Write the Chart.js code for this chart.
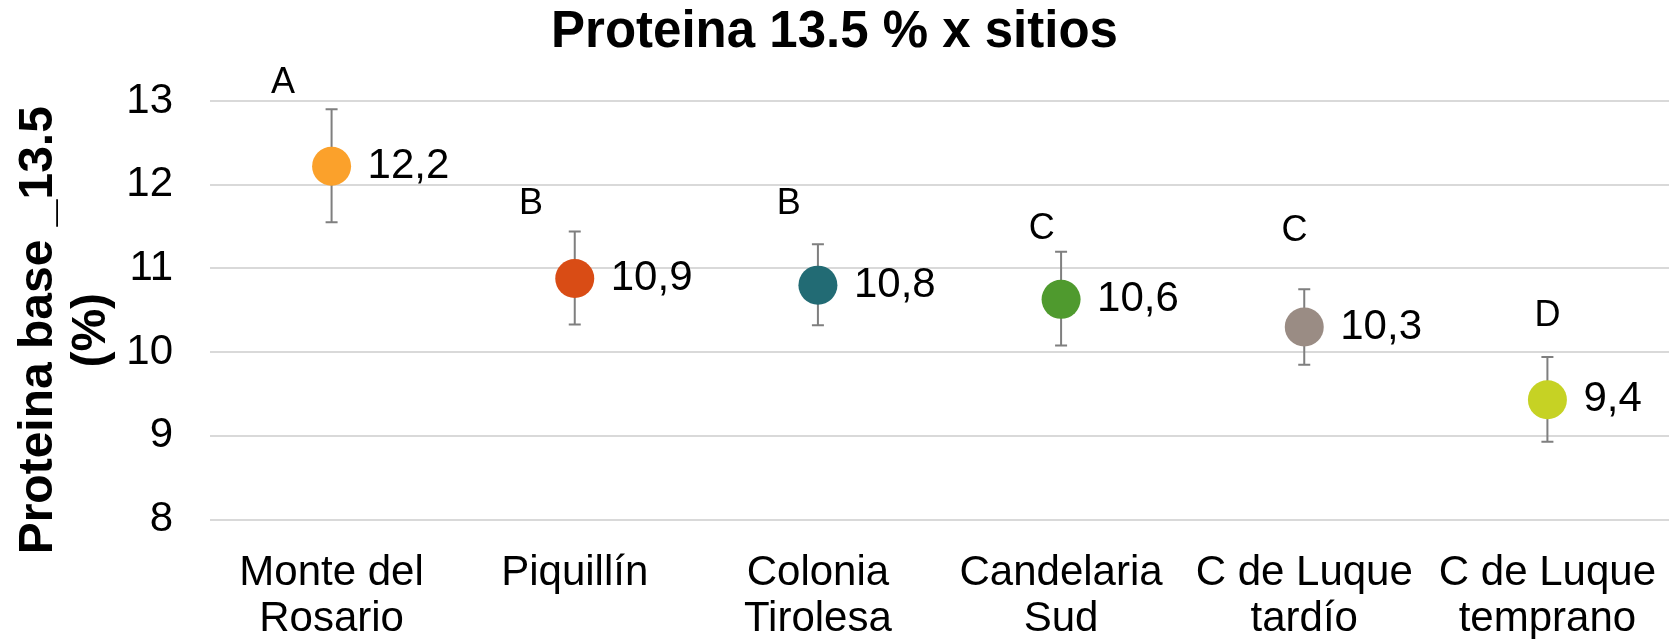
<!DOCTYPE html>
<html>
<head>
<meta charset="utf-8">
<script src="https://cdn.jsdelivr.net/npm/chart.js@4.4.1/dist/chart.umd.min.js"></script>
<style>
  html, body { margin: 0; padding: 0; background: #fff; }
</style>
</head>
<body>
<canvas id="chart" width="1669" height="639"></canvas>
<script>
// data
var sites   = [['Monte del', 'Rosario'], ['Piquillín'], ['Colonia', 'Tirolesa'], ['Candelaria', 'Sud'], ['C de Luque', 'tardío'], ['C de Luque', 'temprano']];
var protein = [12.22, 10.88, 10.80, 10.63, 10.30, 9.43];
var errLow  = [11.55, 10.33, 10.32, 10.08, 9.85, 8.93];
var errHigh = [12.90, 11.44, 11.29, 11.20, 10.75, 9.94];
var groups  = ['A', 'B', 'B', 'C', 'C', 'D'];
var groupX  = [-0.20, 0.82, 1.88, 2.92, 3.96, 5.00];
var groupY  = [13.22, 11.77, 11.77, 11.47, 11.44, 10.43];
var yTicks  = [8, 9, 10, 11, 12, 13];
var colors  = ['#fba12b', '#d94c15', '#226b74', '#4f9a2e', '#9a8c84', '#c6d224'];

var chartTitle = 'Proteina 13.5 % x sitios';
var yTitle     = ['Proteina base _13.5', '(%)'];
var FONT       = "'Liberation Sans', Arial, sans-serif";

var points = protein.map(function(v, i) { return { x: i, y: v }; });
var letters = groups.map(function(g, i) { return { x: groupX[i], y: groupY[i] }; });

// error bars go under the dots
var errorBars = {
  id: 'errorBars',
  beforeDatasetsDraw: function(chart) {
    var ctx = chart.ctx, y = chart.scales.y;
    var meta = chart.getDatasetMeta(0);
    ctx.save();
    ctx.strokeStyle = '#7f7f7f';
    ctx.lineWidth = 2;
    meta.data.forEach(function(pt, i) {
      var top = y.getPixelForValue(errHigh[i]);
      var bot = y.getPixelForValue(errLow[i]);
      ctx.beginPath();
      ctx.moveTo(pt.x, top); ctx.lineTo(pt.x, bot);
      ctx.moveTo(pt.x - 6, top); ctx.lineTo(pt.x + 6, top);
      ctx.moveTo(pt.x - 6, bot); ctx.lineTo(pt.x + 6, bot);
      ctx.stroke();
    });
    ctx.restore();
  }
};

var textLabels = {
  id: 'textLabels',
  afterDatasetsDraw: function(chart) {
    var ctx = chart.ctx;
    ctx.save();
    ctx.fillStyle = '#000';
    ctx.textBaseline = 'middle';

    // value labels, decimal comma
    ctx.font = '42px ' + FONT;
    ctx.textAlign = 'left';
    chart.getDatasetMeta(0).data.forEach(function(pt, i) {
      ctx.fillText(protein[i].toFixed(1).replace('.', ','), pt.x + 36, pt.y);
    });

    // significance letters
    ctx.font = '36px ' + FONT;
    ctx.textAlign = 'center';
    chart.getDatasetMeta(1).data.forEach(function(pt, i) {
      ctx.fillText(groups[i], pt.x, pt.y);
    });

    // y axis title
    var area = chart.chartArea;
    ctx.font = 'bold 48px ' + FONT;
    ctx.translate(39, (area.top + area.bottom) / 2 + 20);
    ctx.rotate(-Math.PI / 2);
    yTitle.forEach(function(line, i) {
      ctx.fillText(line, 0, i * 53);
    });
    ctx.restore();
  }
};

new Chart(document.getElementById('chart'), {
  type: 'scatter',
  data: {
    datasets: [{
      label: 'Proteina',
      data: points,
      pointRadius: 19.5,
      pointHoverRadius: 19.5,
      pointBackgroundColor: colors,
      pointBorderWidth: 0,
      showLine: false
    }, {
      label: 'Letras',
      data: letters,
      pointRadius: 0,
      pointHoverRadius: 0,
      showLine: false
    }]
  },
  options: {
    responsive: false,
    animation: false,
    layout: { padding: 0, autoPadding: false },
    plugins: {
      legend: { display: false },
      tooltip: { enabled: false },
      title: {
        display: true,
        text: chartTitle,
        color: '#000',
        font: { family: FONT, size: 51, weight: 'bold', lineHeight: 1.2 },
        padding: { top: 2, bottom: 37.8 }
      }
    },
    scales: {
      x: {
        type: 'linear',
        min: -0.5,
        max: 5.5,
        grid: { display: false },
        border: { display: false },
        afterBuildTicks: function(axis) {
          axis.ticks = sites.map(function(s, i) { return { value: i }; });
        },
        afterFit: function(axis) {
          axis.height = 119.5;
          axis.paddingLeft = 0;
          axis.paddingRight = 0;
        },
        ticks: {
          autoSkip: false,
          maxRotation: 0,
          padding: 23,
          color: '#000',
          font: { family: FONT, size: 42, lineHeight: 1.1 },
          callback: function(v) { return sites[v]; }
        }
      },
      y: {
        min: 8,
        max: 13,
        afterBuildTicks: function(axis) {
          axis.ticks = yTicks.map(function(t) { return { value: t }; });
        },
        afterFit: function(axis) { axis.width = 210; },
        grid: { color: '#d9d9d9', lineWidth: 2, drawTicks: false },
        border: { display: false },
        ticks: {
          padding: 37,
          color: '#000',
          font: { family: FONT, size: 42 }
        }
      }
    }
  },
  plugins: [errorBars, textLabels]
});
</script>
</body>
</html>
